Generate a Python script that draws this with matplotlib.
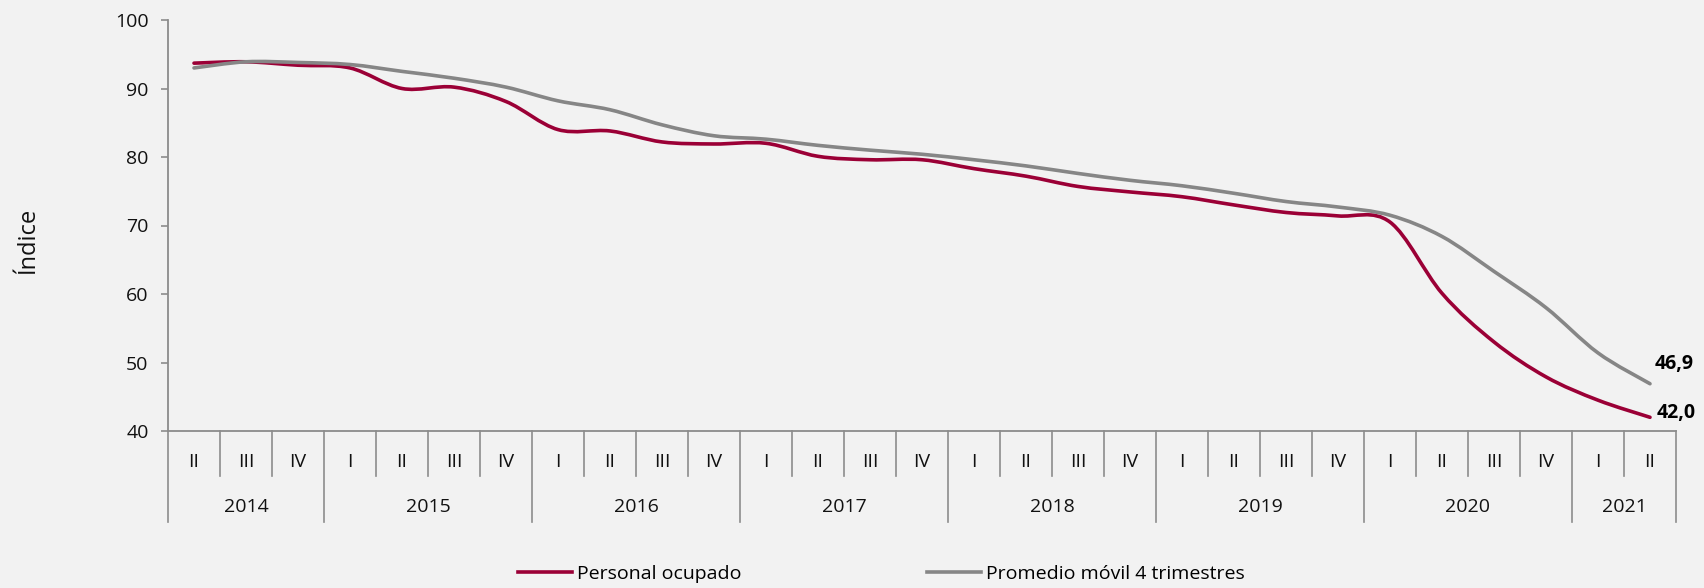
import matplotlib.pyplot as plt
from matplotlib.path import Path
from matplotlib.patches import PathPatch
from matplotlib.lines import Line2D

plt.rcParams['font.family'] = ['Open Sans', 'DejaVu Sans']

# Trimestres 2014-II a 2021-II
quarters = ['II', 'III', 'IV'] + ['I', 'II', 'III', 'IV'] * 6 + ['I', 'II']
years = ['2014', '2015', '2016', '2017', '2018', '2019', '2020', '2021']

personal = [93.7, 93.9, 93.4, 93.0, 90.0, 90.2, 88.1, 84.0, 83.8, 82.2,
            81.9, 82.0, 80.1, 79.6, 79.6, 78.3, 77.2, 75.7, 74.9, 74.2,
            73.0, 71.9, 71.4, 70.5, 60.1, 53.0, 47.9, 44.5, 42.0]
promedio = [93.0, 93.9, 93.8, 93.5, 92.5, 91.5, 90.2, 88.2, 86.9, 84.7,
            83.1, 82.6, 81.7, 81.0, 80.4, 79.6, 78.7, 77.6, 76.6, 75.8,
            74.7, 73.5, 72.7, 71.5, 68.4, 63.3, 58.0, 51.4, 46.9]

RED = '#9b0036'
GRAY = '#868686'
BG = '#f2f2f2'
AXC = '#8c8c8c'
LW = 2.6


def smooth_path(xs, ys):
    # curva suavizada tipo Excel (Bezier por los puntos)
    n = len(xs)
    verts = [(xs[0], ys[0])]
    codes = [Path.MOVETO]
    for i in range(n - 1):
        a = max(i - 1, 0)
        b = min(i + 2, n - 1)
        c1 = (xs[i] + (xs[i + 1] - xs[a]) / 6, ys[i] + (ys[i + 1] - ys[a]) / 6)
        c2 = (xs[i + 1] - (xs[b] - xs[i]) / 6, ys[i + 1] - (ys[b] - ys[i]) / 6)
        verts += [c1, c2, (xs[i + 1], ys[i + 1])]
        codes += [Path.CURVE4] * 3
    return Path(verts, codes)


fig = plt.figure(figsize=(17.04, 5.88), dpi=100, facecolor=BG)
ax = fig.add_axes([168 / 1704, 1 - 431 / 588, (1676 - 168) / 1704, (431 - 20) / 588])
ax.set_facecolor(BG)

n = len(quarters)
x = [i + 0.5 for i in range(n)]

ax.add_patch(PathPatch(smooth_path(x, personal), fill=False, edgecolor=RED,
                       lw=LW, capstyle='round', joinstyle='round'))
ax.add_patch(PathPatch(smooth_path(x, promedio), fill=False, edgecolor=GRAY,
                       lw=LW, capstyle='round', joinstyle='round'))

ax.set_xlim(0, n)
ax.set_ylim(40, 100)
ax.set_yticks(range(40, 101, 10))
ax.set_xticks([])
ax.tick_params(axis='y', length=5, width=1.2, color=AXC, pad=9, labelsize=14,
               labelcolor='#111111')
for s in ['top', 'right']:
    ax.spines[s].set_visible(False)
for s in ['left', 'bottom']:
    ax.spines[s].set_color(AXC)
    ax.spines[s].set_linewidth(1.3)

# eje de categorias en dos niveles
tr = ax.get_xaxis_transform()
h = 431 - 20
q_depth = 45 / h
y_depth = 91 / h
starts = [i for i, q in enumerate(quarters) if q == 'I']
year_edges = [0] + starts + [n]
for i in range(1, n):
    if i not in starts:
        ax.plot([i, i], [0, -q_depth], transform=tr, color=AXC, lw=1.2, clip_on=False)
for e in year_edges:
    ax.plot([e, e], [0, -y_depth], transform=tr, color=AXC, lw=1.2, clip_on=False)
for xi, q in zip(x, quarters):
    ax.text(xi, -31 / h, q, transform=tr, ha='center', va='center', fontsize=14,
            color='#111111')
for k, yr in enumerate(years):
    mid = (year_edges[k] + year_edges[k + 1]) / 2
    ax.text(mid, -76 / h, yr, transform=tr, ha='center', va='center', fontsize=14,
            color='#111111')

# etiquetas del ultimo valor
fmt = lambda v: f'{v:.1f}'.replace('.', ',')
ax.annotate(fmt(promedio[-1]), (x[-1], promedio[-1]), xytext=(3.5, 14.5),
            textcoords='offset points', ha='left', va='center', fontsize=14,
            fontweight='bold', annotation_clip=False)
ax.annotate(fmt(personal[-1]), (x[-1], personal[-1]), xytext=(5, 3),
            textcoords='offset points', ha='left', va='center', fontsize=14,
            fontweight='bold', annotation_clip=False)

fig.text(28 / 1704, 1 - 240 / 588, 'Índice', rotation=90, ha='center', va='center',
         fontsize=17, color='#111111')

handles = [Line2D([], [], color=RED, lw=LW), Line2D([], [], color=GRAY, lw=LW)]
fig.legend(handles, ['Personal ocupado', 'Promedio móvil 4 trimestres'], ncol=2,
           loc='center left', bbox_to_anchor=(518 / 1704, 1 - 574 / 588),
           frameon=False, fontsize=14, handlelength=2.8, handletextpad=0.25,
           columnspacing=9.5, borderpad=0, borderaxespad=0)

fig.savefig('out.png', dpi=100, facecolor=BG)
